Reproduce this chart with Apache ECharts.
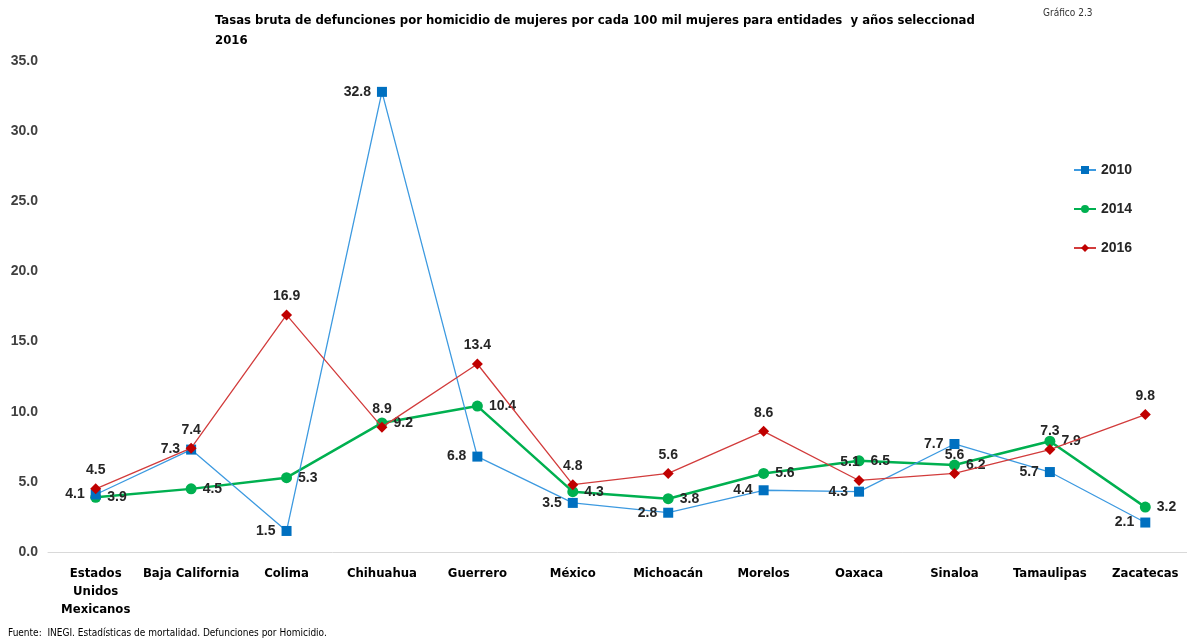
<!DOCTYPE html>
<html><head><meta charset="utf-8">
<script src="https://cdn.jsdelivr.net/npm/echarts@6/dist/echarts.min.js"></script>
<style>html,body{margin:0;padding:0;background:#fff}#c{width:1187px;height:639px}</style>
</head><body><div id="c"></div>
<script>
const categories = ['Estados\nUnidos\nMexicanos','Baja California','Colima','Chihuahua','Guerrero','México','Michoacán','Morelos','Oaxaca','Sinaloa','Tamaulipas','Zacatecas'];
const s2010 = [4.1, 7.3, 1.5, 32.8, 6.8, 3.5, 2.8, 4.4, 4.3, 7.7, 5.7, 2.1];
const s2014 = [3.9, 4.5, 5.3, 9.2, 10.4, 4.3, 3.8, 5.6, 6.5, 6.2, 7.9, 3.2];
const s2016 = [4.5, 7.4, 16.9, 8.9, 13.4, 4.8, 5.6, 8.6, 5.1, 5.6, 7.3, 9.8];
const narrow = "'DejaVu Sans Condensed',sans-serif";
const lbl = (pos) => ({show:true, position:pos, distance:6, formatter:p=>p.value.toFixed(1), color:'#262626', fontFamily:'Liberation Sans, Arial, sans-serif', fontWeight:'bold', fontSize:14});
// red series: Oaxaca label nudged left (as in the reference, to avoid overlap)
const d2016 = s2016.map((v,i)=> i===8 ? {value:v, label:{offset:[-9,0]}} : v);
const chart = echarts.init(document.getElementById('c'));
chart.setOption({
  animation:false,
  title:[
    {text:'Tasas bruta de defunciones por homicidio de mujeres por cada 100 mil mujeres para entidades  y años seleccionad\n2016', left:210, top:6, textStyle:{fontFamily:narrow, fontWeight:'bold', fontSize:13, lineHeight:20, color:'#000'}},
    {text:'Gráfico 2.3', left:1038, top:3, textStyle:{fontFamily:narrow, fontWeight:'normal', fontSize:10, color:'#333'}},
    {text:'Fuente:  INEGI. Estadísticas de mortalidad. Defunciones por Homicidio.', left:3, top:623, textStyle:{fontFamily:narrow, fontWeight:'normal', fontSize:10, color:'#000'}}
  ],
  legend:{orient:'vertical', left:1068, top:158, itemGap:25, itemWidth:22, itemHeight:10,
    textStyle:{fontFamily:'Liberation Sans, Arial, sans-serif', fontWeight:'bold', fontSize:14, color:'#262626'},
    data:['2010','2014','2016']},
  grid:{left:48, top:61, right:-6, bottom:87, outerBoundsMode:'none'},
  xAxis:{type:'category', data:categories, boundaryGap:true,
    axisLine:{lineStyle:{color:'#d9d9d9'}}, axisTick:{show:false},
    axisLabel:{interval:0, margin:13, fontFamily:narrow, fontWeight:'bold', fontSize:13, lineHeight:18, color:'#000'}},
  yAxis:{type:'value', min:0, max:35, interval:5,
    axisLine:{show:false}, axisTick:{show:false}, splitLine:{show:false},
    axisLabel:{formatter:v=>v.toFixed(1), margin:10, fontFamily:'Liberation Sans, Arial, sans-serif', fontWeight:'bold', fontSize:14, color:'#404040'}},
  series:[
    {name:'2010', type:'line', data:s2010, symbol:'rect', symbolSize:10,
      lineStyle:{color:'#3d9ae0', width:1.3}, itemStyle:{color:'#0070C0'}, label:lbl('left'), z:3},
    {name:'2014', type:'line', data:s2014, symbol:'circle', symbolSize:11,
      lineStyle:{color:'#00B050', width:2.5}, itemStyle:{color:'#00B050'}, label:lbl('right'), z:2},
    {name:'2016', type:'line', data:d2016, symbol:'diamond', symbolSize:11,
      lineStyle:{color:'#d23c3c', width:1.3}, itemStyle:{color:'#C00000'}, label:lbl('top'), z:4}
  ]
});
</script></body></html>
